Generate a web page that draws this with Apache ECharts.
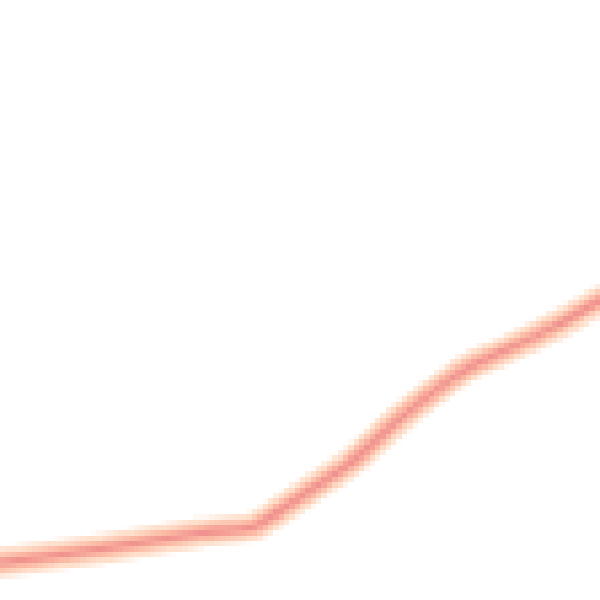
<!DOCTYPE html>
<html>
<head>
<meta charset="utf-8">
<script src="https://cdn.jsdelivr.net/npm/echarts@6/dist/echarts.min.js"></script>
<style>
html,body{margin:0;padding:0;background:#ffffff;}
#chart{width:600px;height:600px;}
#chart canvas{image-rendering:pixelated;image-rendering:crisp-edges;}
</style>
</head>
<body>
<div id="chart"></div>
<script>
// x positions along the track and series values
var xs = [0, 100, 200, 255, 300, 350, 400, 450, 475, 500, 550, 600];
var values = [6.2, 8.5, 11.2, 12.3, 17.2, 22.8, 30.3, 36.7, 39.3, 41.2, 45.2, 50.0];

var points = xs.map(function(x, i){ return [x, values[i]]; });

var chart = echarts.init(document.getElementById('chart'), null, {renderer:'canvas', devicePixelRatio: 112/600});

function layer(width, color, z){
  return {
    type:'line', data: points, smooth: 0.2, symbol:'none', silent:true, z:z,
    lineStyle:{width:width, color:color, cap:'round', join:'round'},
    animation:false
  };
}

chart.setOption({
  animation:false,
  backgroundColor:'#ffffff',
  grid:{left:0,right:0,top:0,bottom:0},
  xAxis:{type:'value', min:0, max:600, show:false},
  yAxis:{type:'value', min:0, max:100, show:false},
  series:[
    layer(29, '#fee0cc', 1),
    layer(17, '#fbb8a3', 2),
    layer(6, '#f0928f', 3)
  ]
});
</script>
</body>
</html>
